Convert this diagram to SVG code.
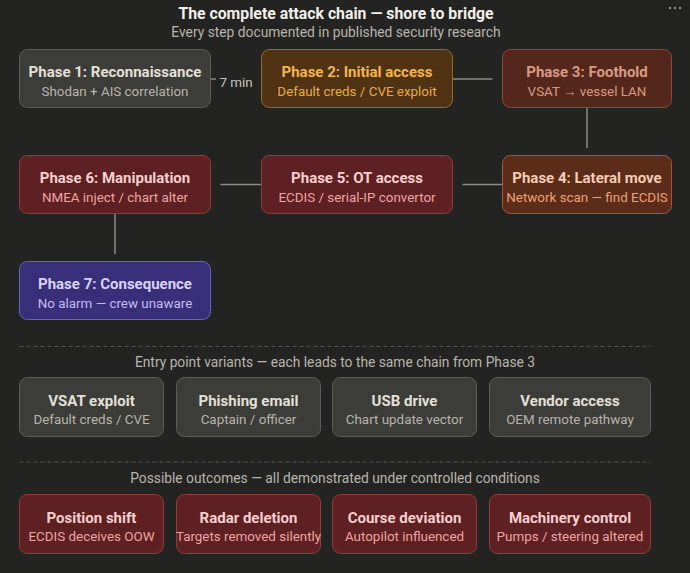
<svg xmlns="http://www.w3.org/2000/svg" width="690" height="573" viewBox="0 0 690 573">
<style>
text{font-family:Roboto,"Liberation Sans",Arial,sans-serif;text-anchor:middle}
.t{font-size:15px;font-weight:700}
.s{font-size:13.4px}
.box{stroke-width:1}
.grey rect{fill:#3c3c39;stroke:#5e5e59}
.grey .t{fill:#e3e0d8}.grey .s{fill:#b8b5ad}
.amber rect{fill:#4f3314;stroke:#9b6a25}
.amber .t{fill:#f4b64c}.amber .s{fill:#e8ab47}
.rust rect{fill:#54271b;stroke:#8c4a36}
.rust .t{fill:#d99a85}.rust .s{fill:#d99a85}
.orange rect{fill:#5a2c19;stroke:#a5593b}
.orange .t{fill:#f6cdb5}.orange .s{fill:#f0a078}
.red rect{fill:#5e2020;stroke:#933c3c}
.red .t{fill:#f6d0cf}.red .s{fill:#f0a4a3}
.purple rect{fill:#382e7a;stroke:#6c62c4}
.purple .t{fill:#d9d5ff}.purple .s{fill:#c3bdf6}
.conn line{stroke:#8c8c86;stroke-width:1.5}
.sep{stroke:#56564f;stroke-width:1;stroke-dasharray:4 3}
.cap{fill:#b8b5ad;font-size:13.8px}
</style>
<rect width="690" height="573" fill="#232321"/>
<g id="menu" fill="#9a9a94"><rect x="669" y="7" width="2" height="2"/><rect x="674" y="7" width="2" height="2"/><rect x="679" y="7" width="2" height="2"/></g>
<text x="336" y="19" style="font-size:15.8px;font-weight:700" fill="#f2f0ea">The complete attack chain — shore to bridge</text>
<text x="336" y="37" class="cap">Every step documented in published security research</text>

<g id="connectors" class="conn">
<line x1="210.5" y1="79" x2="251" y2="79"/>
<line x1="452.5" y1="79" x2="492.5" y2="79"/>
<line x1="587" y1="107.5" x2="587" y2="148"/>
<line x1="502.5" y1="184.5" x2="462.5" y2="184.5"/>
<line x1="261.5" y1="184.5" x2="220.5" y2="184.5"/>
<line x1="115" y1="213.5" x2="115" y2="254"/>
<rect x="216" y="70" width="37" height="18" fill="#232321"/>
<text x="236" y="86.5" class="s" fill="#c8c5bd">7 min</text>
</g>

<g id="phase1" class="grey"><rect x="19.5" y="49.5" width="191" height="58" rx="8"/><text x="115" y="77" class="t">Phase 1: Reconnaissance</text><text x="115" y="95.5" class="s">Shodan + AIS correlation</text></g>
<g id="phase2" class="amber"><rect x="261.5" y="49.5" width="191" height="58" rx="8"/><text x="357" y="77" class="t">Phase 2: Initial access</text><text x="357" y="95.5" class="s">Default creds / CVE exploit</text></g>
<g id="phase3" class="rust"><rect x="502.5" y="49.5" width="169" height="58" rx="8"/><text x="587" y="77" class="t">Phase 3: Foothold</text><text x="587" y="95.5" class="s">VSAT → vessel LAN</text></g>
<g id="phase4" class="orange"><rect x="502.5" y="155.5" width="169" height="58" rx="8"/><text x="587" y="183" class="t">Phase 4: Lateral move</text><text x="587" y="201.5" class="s">Network scan — find ECDIS</text></g>
<g id="phase5" class="red"><rect x="261.5" y="155.5" width="191" height="58" rx="8"/><text x="357" y="183" class="t">Phase 5: OT access</text><text x="357" y="201.5" class="s">ECDIS / serial-IP convertor</text></g>
<g id="phase6" class="red"><rect x="19.5" y="155.5" width="191" height="58" rx="8"/><text x="115" y="183" class="t">Phase 6: Manipulation</text><text x="115" y="201.5" class="s">NMEA inject / chart alter</text></g>
<g id="phase7" class="purple"><rect x="19.5" y="261.5" width="191" height="58" rx="8"/><text x="115" y="289" class="t">Phase 7: Consequence</text><text x="115" y="307.5" class="s">No alarm — crew unaware</text></g>

<line class="sep" x1="19.5" y1="346.5" x2="651" y2="346.5"/>
<text x="335" y="367" class="cap">Entry point variants — each leads to the same chain from Phase 3</text>

<g id="entry-vsat" class="grey"><rect x="19.5" y="377.5" width="144" height="59" rx="8"/><text x="91.5" y="405.5" class="t">VSAT exploit</text><text x="91.5" y="423.5" class="s">Default creds / CVE</text></g>
<g id="entry-phishing" class="grey"><rect x="176.5" y="377.5" width="144" height="59" rx="8"/><text x="248.5" y="405.5" class="t">Phishing email</text><text x="248.5" y="423.5" class="s">Captain / officer</text></g>
<g id="entry-usb" class="grey"><rect x="332.5" y="377.5" width="144" height="59" rx="8"/><text x="404.5" y="405.5" class="t">USB drive</text><text x="404.5" y="423.5" class="s">Chart update vector</text></g>
<g id="entry-vendor" class="grey"><rect x="489.5" y="377.5" width="161" height="59" rx="8"/><text x="570" y="405.5" class="t">Vendor access</text><text x="570" y="423.5" class="s">OEM remote pathway</text></g>

<line class="sep" x1="19.5" y1="462" x2="651" y2="462"/>
<text x="335" y="483" class="cap">Possible outcomes — all demonstrated under controlled conditions</text>

<g id="out-position" class="red"><rect x="19.5" y="494.5" width="144" height="59" rx="8"/><text x="91.5" y="522.5" class="t">Position shift</text><text x="91.5" y="540.5" class="s">ECDIS deceives OOW</text></g>
<g id="out-radar" class="red"><rect x="176.5" y="494.5" width="144" height="59" rx="8"/><text x="248.5" y="522.5" class="t">Radar deletion</text><text x="248.5" y="540.5" class="s">Targets removed silently</text></g>
<g id="out-course" class="red"><rect x="332.5" y="494.5" width="144" height="59" rx="8"/><text x="404.5" y="522.5" class="t">Course deviation</text><text x="404.5" y="540.5" class="s">Autopilot influenced</text></g>
<g id="out-machinery" class="red"><rect x="489.5" y="494.5" width="161" height="59" rx="8"/><text x="570" y="522.5" class="t">Machinery control</text><text x="570" y="540.5" class="s">Pumps / steering altered</text></g>
</svg>
